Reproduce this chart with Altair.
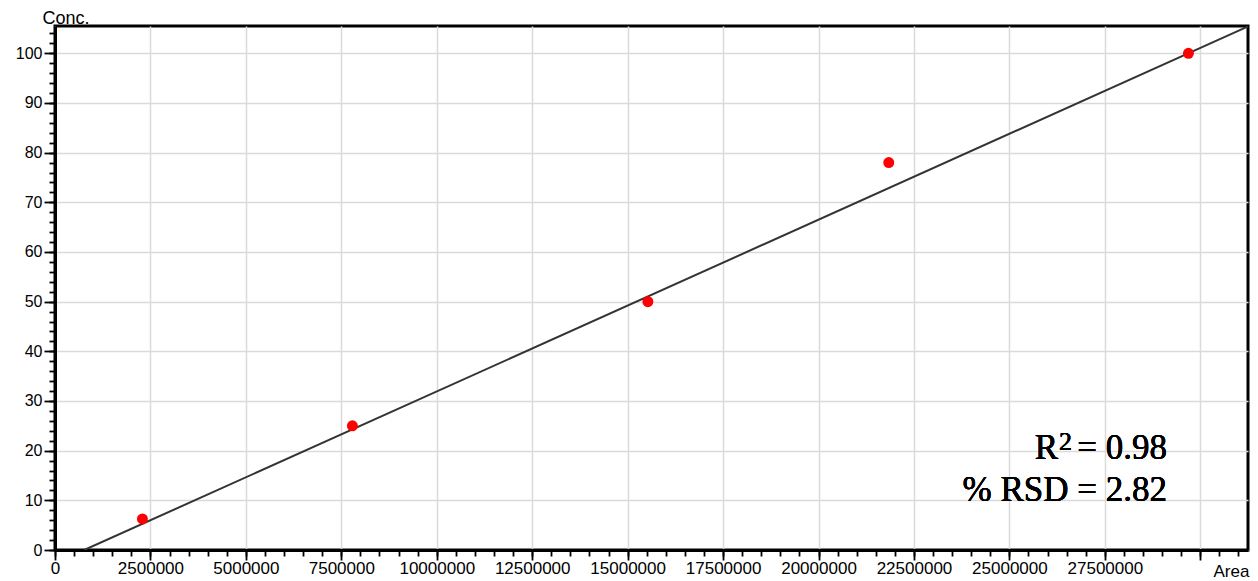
import altair as alt
import pandas as pd

# Calibration points
area = [2290000, 7790000, 15530000, 21840000, 29690000]
conc = [6.25, 25, 50, 78, 100]

# Fitted line end points
fit_area = [766000, 31250000]
fit_conc = [0, 105.4]

# Axis ticks
x_major = [0, 2500000, 5000000, 7500000, 10000000, 12500000, 15000000,
           17500000, 20000000, 22500000, 25000000, 27500000, 30000000]
x_minor = [i * 500000 for i in range(0, 63)]
y_major = [0, 10, 20, 30, 40, 50, 60, 70, 80, 90, 100]
y_minor = [i * 2 for i in range(0, 53)]

r2_value = "= 0.98"
rsd_text = "% RSD = 2.82"

pts = pd.DataFrame({"area": area, "conc": conc})
fit = pd.DataFrame({"area": fit_area, "conc": fit_conc})

xs = alt.Scale(domain=[0, 31250000], nice=False, zero=False)
ys = alt.Scale(domain=[0, 105.5], nice=False, zero=False)

lab_font = "Liberation Sans"

x_major_axis = alt.Axis(
    values=x_major, format="d",
    labelExpr="datum.value >= 30000000 ? '' : datum.label",
    tickSize=10, tickColor="black", tickWidth=1.8,
    grid=True, gridColor="#dadada", gridWidth=1.5,
    domain=True, domainColor="black", domainWidth=3,
    labelFont=lab_font, labelFontSize=17, labelColor="black",
    labelPadding=0, labelFlush=False, labelOverlap=False,
    title="Area", titleFont=lab_font, titleFontSize=17, titleFontWeight="normal",
    titleColor="black", titleAlign="left", titleBaseline="alphabetic",
    titleX=1158, titleY=26, titleAnchor="start", orient="bottom",
)
y_major_axis = alt.Axis(
    values=y_major,
    tickSize=11, tickColor="black", tickWidth=1.8,
    grid=True, gridColor="#dadada", gridWidth=1.5,
    domain=True, domainColor="black", domainWidth=3,
    labelFont=lab_font, labelFontSize=16, labelColor="black",
    labelPadding=2, labelFlush=False, labelOverlap=False,
    title="Conc.", titleFont=lab_font, titleFontSize=18, titleFontWeight="normal",
    titleColor="black", titleAngle=0, titleAlign="left", titleBaseline="alphabetic",
    titleX=-13, titleY=-3, titleAnchor="start", orient="left",
)
x_minor_axis = alt.Axis(
    values=x_minor, labels=False, tickSize=6, tickColor="black", tickWidth=1.8,
    grid=False, domain=False, title="", orient="bottom",
)
y_minor_axis = alt.Axis(
    values=y_minor, labels=False, tickSize=6, tickColor="black", tickWidth=1.8,
    grid=False, domain=False, title="", orient="left",
)

line = alt.Chart(fit).mark_line(color="#333333", strokeWidth=2, clip=True).encode(
    x=alt.X("area:Q", scale=xs, axis=x_major_axis),
    y=alt.Y("conc:Q", scale=ys, axis=y_major_axis),
)
points = alt.Chart(pts).mark_circle(color="#ff0000", size=120, opacity=1).encode(
    x=alt.X("area:Q", scale=xs, axis=x_minor_axis),
    y=alt.Y("conc:Q", scale=ys, axis=y_minor_axis),
)

serif = "Liberation Serif"
t_eq = alt.Chart(pts).mark_text(
    text=r2_value, font=serif, fontSize=35, align="right", baseline="alphabetic", color="black"
).encode(x=alt.value(1112), y=alt.value(433))
t_R = alt.Chart(pts).mark_text(
    text="R", font=serif, fontSize=35, align="right", baseline="alphabetic", color="black"
).encode(x=alt.value(1003), y=alt.value(433))
t_2 = alt.Chart(pts).mark_text(
    text="2", font=serif, fontSize=26, align="left", baseline="alphabetic", color="black"
).encode(x=alt.value(1004), y=alt.value(424))
t_rsd = alt.Chart(pts).mark_text(
    text=rsd_text, font=serif, fontSize=35, align="right", baseline="alphabetic", color="black"
).encode(x=alt.value(1112), y=alt.value(475))

chart = alt.layer(line, points, t_eq, t_R, t_2, t_rsd).resolve_axis(
    x="independent", y="independent"
).properties(
    width=1193, height=524,
    autosize=alt.AutoSizeParams(type="none"),
    padding={"left": 47, "top": 18, "right": 2, "bottom": 31},
    background="white",
).configure_view(stroke="black", strokeWidth=3)

chart.save("out.html", embed_options={"renderer": "svg", "actions": False})
